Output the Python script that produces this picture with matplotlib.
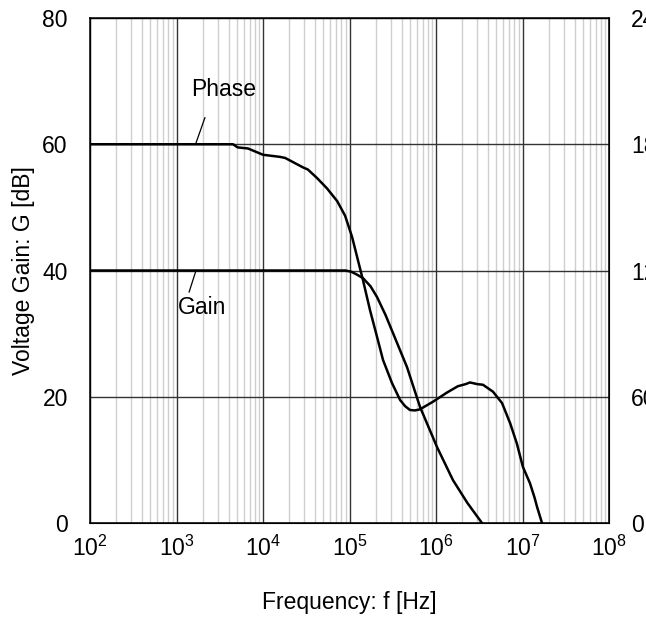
import numpy as np
import matplotlib
matplotlib.use('Agg')
import matplotlib.pyplot as plt
from matplotlib.ticker import LogLocator, NullFormatter

plt.rcParams['font.family'] = ['Liberation Sans', 'DejaVu Sans']
plt.rcParams['font.size'] = 16.5

# gain curve [dB] vs frequency [Hz]
gain_f = [1e2, 9.0e4, 1.05e5, 1.2e5, 1.43e5, 1.75e5, 2.08e5, 2.6e5, 3.18e5,
          4.62e5, 6.53e5, 1.03e6, 1.57e6, 2.3e6, 3.4e6]
gain_db = [40, 40, 39.8, 39.4, 38.8, 37.5, 35.8, 33.0, 30.1,
           24.7, 18.4, 12.0, 6.8, 3.2, 0]

# phase curve [deg] vs frequency [Hz]
phase_f = [1e2, 4.5e3, 5.1e3, 6.7e3, 1.0e4, 1.57e4, 1.8e4, 1.9e4, 2.9e4, 3.3e4,
           4.2e4, 5.5e4, 7.2e4, 8.9e4, 1.07e5, 1.25e5, 1.43e5, 1.73e5, 2.08e5,
           2.44e5, 3.1e5, 3.84e5, 4.4e5, 5.0e5, 5.7e5, 6.5e5, 9.2e5, 1.34e6,
           1.79e6, 2.2e6, 2.47e6, 3.0e6, 3.49e6, 4.56e6, 5.8e6, 7.2e6, 8.6e6,
           1.01e7, 1.22e7, 1.38e7, 1.47e7, 1.68e7]
phase_deg = [180, 180, 178.5, 178, 175, 174, 173.5, 173, 169, 168,
             164, 159, 153, 146, 136, 125, 115.5, 101, 88.5,
             77.5, 66.5, 58.5, 55.5, 53.7, 53.5, 54, 57.6, 62,
             65, 66.0, 66.8, 66.0, 65.7, 62.4, 57, 47.4, 37.8,
             26.7, 18.9, 12.0, 7.8, 0]

left_ticks = [0, 20, 40, 60, 80]
right_ticks = [0, 60, 120, 180, 240]

fig = plt.figure(figsize=(6.46, 6.21), dpi=100)
ax = fig.add_axes([90 / 646, (621 - 523) / 621, 519 / 646, 505 / 621])

ax.set_xscale('log')
ax.set_xlim(1e2, 1e8)
ax.set_ylim(0, 80)
ax.set_yticks(left_ticks)
ax.xaxis.set_major_locator(LogLocator(base=10, numticks=10))
ax.xaxis.set_minor_locator(LogLocator(base=10, subs=np.arange(2, 10), numticks=20))
ax.xaxis.set_minor_formatter(NullFormatter())

ax.set_axisbelow(True)
ax.grid(which='minor', axis='x', color='#cfcfcf', lw=1.0)
ax.grid(which='major', axis='both', color='#333333', lw=1.0)

ax.tick_params(which='both', length=0)
ax.tick_params(axis='y', pad=16)
ax.tick_params(axis='x', pad=9)
for s in ax.spines.values():
    s.set_linewidth(1.1)

ax.plot(gain_f, gain_db, color='black', lw=1.8)

ax2 = ax.twinx()
ax2.set_ylim(0, 240)
ax2.set_yticks(right_ticks)
ax2.tick_params(length=0, pad=16)
ax2.plot(phase_f, phase_deg, color='black', lw=1.8)

# labels on curves
ax.text(3.5e3, 68.6, 'Phase', ha='center', va='center')
ax.plot([1.68e3, 2.13e3], [60.2, 64.2], color='black', lw=0.9)
ax.text(2.0e3, 34.2, 'Gain', ha='center', va='center')
ax.plot([1.68e3, 1.4e3], [40, 36.6], color='black', lw=0.9)

ax.set_ylabel('Voltage Gain: G [dB]')
ax.yaxis.set_label_coords(-0.106, 0.5)
ax.set_xlabel('Frequency: f [Hz]')
ax.xaxis.set_label_coords(0.5, -0.135)
ax.xaxis.label.set_verticalalignment('top')

fig.savefig('out.png', dpi=100)
